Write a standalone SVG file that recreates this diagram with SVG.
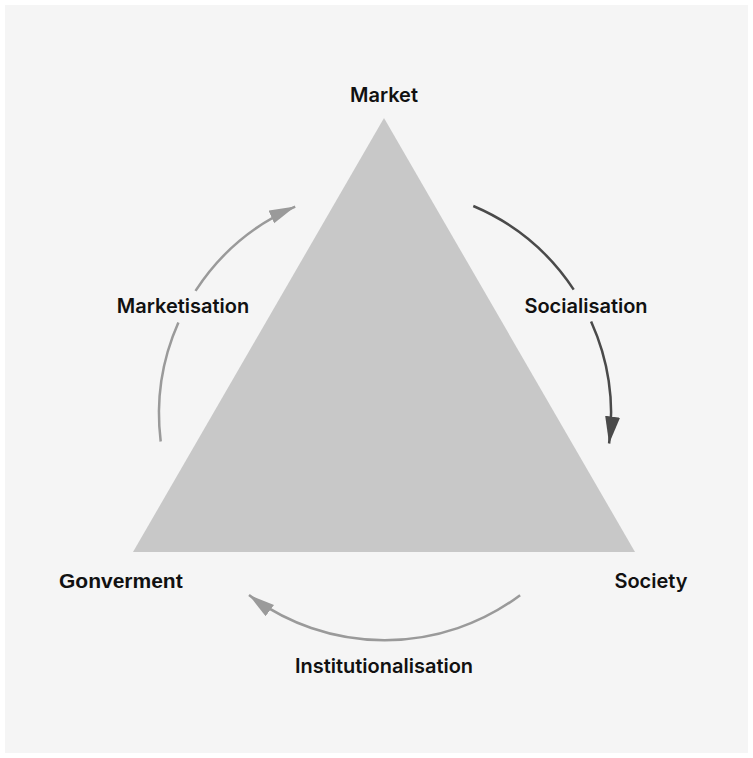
<svg xmlns="http://www.w3.org/2000/svg" width="753" height="758" viewBox="0 0 753 758">
<style>
.lbl{font-family:Inter,"Liberation Sans",sans-serif;font-weight:600;font-size:20px;fill:#111;text-anchor:middle}
.gov{font-family:"Liberation Sans",Arial,sans-serif;font-weight:700;font-size:21px;fill:#111}
.light{fill:none;stroke:#9a9a9a;stroke-width:2.5}
.dark{fill:none;stroke:#4a4a4a;stroke-width:2.5}
</style>
<defs>
<marker id="ahLight" markerUnits="userSpaceOnUse" markerWidth="30" markerHeight="20" refX="26" refY="7" orient="auto">
<path d="M0,0 L26,7 L0,14 Z" fill="#9a9a9a"/>
</marker>
<marker id="ahDark" markerUnits="userSpaceOnUse" markerWidth="30" markerHeight="20" refX="27" refY="7.5" orient="auto">
<path d="M0,0 L27,7.5 L0,15 Z" fill="#4a4a4a"/>
</marker>
</defs>
<rect x="5" y="5" width="743" height="748" fill="#f5f5f5"/>
<g id="triangle">
<polygon points="384,118 133,552 635,552" fill="#c8c8c8"/>
</g>
<g id="connectors">
<path class="dark" d="M473.3,206 A226,226 0 0 1 573.7,289.6"/>
<path class="dark" d="M591.1,321.4 A226,226 0 0 1 609.1,443.5" marker-end="url(#ahDark)"/>
<path class="light" d="M160.7,441.5 A226,226 0 0 1 178.4,322.4"/>
<path class="light" d="M195.5,290.9 A226,226 0 0 1 295.2,206.6" marker-end="url(#ahLight)"/>
<path class="light" d="M520.1,595.2 A226,226 0 0 1 249,595" marker-end="url(#ahLight)"/>
</g>
<g id="market"><text class="lbl" x="384" y="102">Market</text></g>
<g id="society"><text class="lbl" x="651" y="588">Society</text></g>
<g id="government"><text class="gov" x="59" y="588">Gonverment</text></g>
<g id="socialisation"><text class="lbl" x="586" y="313">Socialisation</text></g>
<g id="marketisation"><text class="lbl" x="183" y="313">Marketisation</text></g>
<g id="institutionalisation"><text class="lbl" x="384" y="673">Institutionalisation</text></g>
</svg>
